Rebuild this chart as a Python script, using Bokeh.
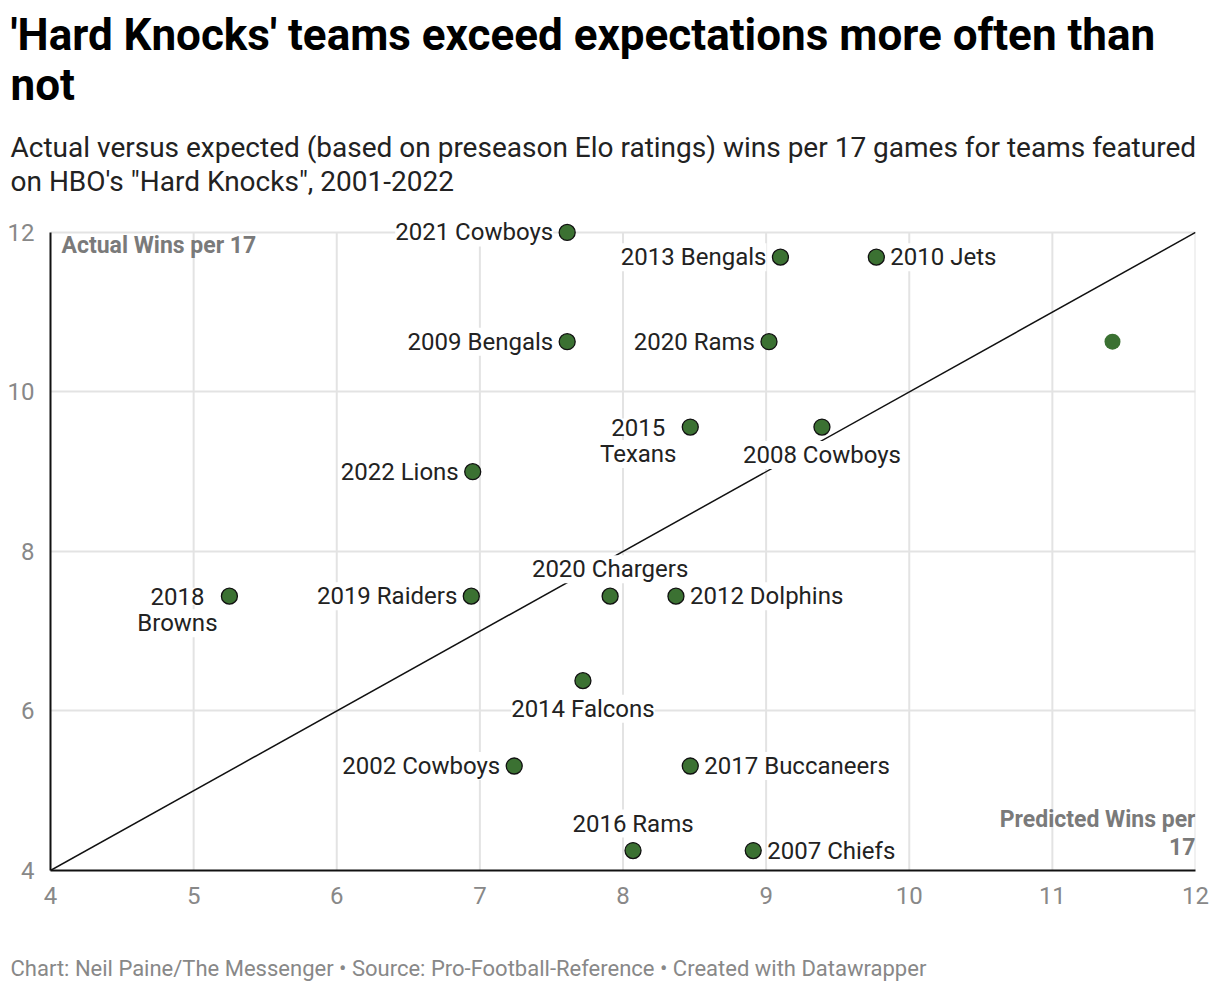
from bokeh.plotting import figure
from bokeh.models import ColumnDataSource, LabelSet, Label, Title, FixedTicker, Range1d
from bokeh.core.properties import value
from bokeh.embed import file_html
from bokeh.resources import INLINE

# ---- data ----
teams = ["2021 Cowboys", "2013 Bengals", "2010 Jets", "", "2009 Bengals", "2020 Rams",
         "2015 Texans", "2008 Cowboys", "2022 Lions", "2018 Browns", "2019 Raiders",
         "2020 Chargers", "2012 Dolphins", "2014 Falcons", "2002 Cowboys",
         "2017 Buccaneers", "2016 Rams", "2007 Chiefs"]
predicted = [7.61, 9.10, 9.77, 11.42, 7.61, 9.02, 8.47, 9.39, 6.95, 5.25, 6.94,
             7.91, 8.37, 7.72, 7.24, 8.47, 8.07, 8.91]
actual = [12.0, 11.69, 11.69, 10.63, 10.63, 10.63, 9.56, 9.56, 9.0, 7.44, 7.44,
          7.44, 7.44, 6.38, 5.31, 5.31, 4.25, 4.25]
x_ticks = [4, 5, 6, 7, 8, 9, 10, 11, 12]
y_ticks = [4, 6, 8, 10, 12]
diag_x = [4, 12]
diag_y = [4, 12]

title_lines = ["'Hard Knocks' teams exceed expectations more often than", "not"]
subtitle_lines = ["Actual versus expected (based on preseason Elo ratings) wins per 17 games for teams featured",
                  'on HBO\'s "Hard Knocks", 2001-2022']
footer = "Chart: Neil Paine/The Messenger \u2022 Source: Pro-Football-Reference \u2022 Created with Datawrapper"

# label placement (style)
label_side = {
    "2021 Cowboys": "left", "2013 Bengals": "left", "2010 Jets": "right",
    "2009 Bengals": "left", "2020 Rams": "left", "2015 Texans": "left2",
    "2008 Cowboys": "below", "2022 Lions": "left", "2018 Browns": "left2",
    "2019 Raiders": "left", "2020 Chargers": "above", "2012 Dolphins": "right",
    "2014 Falcons": "below", "2002 Cowboys": "left", "2017 Buccaneers": "right",
    "2016 Rams": "above", "2007 Chiefs": "right",
}

FONT = "Roboto"
GREEN = "#3b7132"

p = figure(width=1212, height=1000, x_range=Range1d(4, 12), y_range=Range1d(4, 12.25),
           output_backend="svg", toolbar_location=None, title=None,
           min_border_left=50, min_border_right=17, min_border_top=212, min_border_bottom=130)
p.outline_line_color = None
p.background_fill_color = "white"
p.border_fill_color = "white"

# axes
for ax in (p.xaxis[0], p.yaxis[0]):
    ax.axis_line_color = "#111111"
    ax.axis_line_width = 2
    ax.major_tick_line_color = None
    ax.minor_tick_line_color = None
    ax.major_label_text_font = FONT
    ax.major_label_text_font_size = "24px"
    ax.major_label_text_color = "#888888"
p.xaxis.ticker = FixedTicker(ticks=x_ticks)
p.yaxis.ticker = FixedTicker(ticks=y_ticks)
p.yaxis.bounds = (4, 12)
p.xaxis.major_label_standoff = 10
p.yaxis.major_label_standoff = 10
# blank spacer label to push the footer down
p.xaxis.axis_label = " "
p.xaxis.axis_label_text_font_size = "10px"
p.xaxis.axis_label_text_color = "white"
p.xaxis.axis_label_standoff = 31

# grids
p.xgrid.visible = False
p.ygrid.ticker = FixedTicker(ticks=y_ticks)
p.ygrid.grid_line_color = "#e3e3e3"
p.ygrid.grid_line_width = 2
gx = x_ticks[1:]
p.segment(x0=gx, x1=gx, y0=[y_ticks[0]] * len(gx), y1=[y_ticks[-1]] * len(gx),
          line_color="#e3e3e3", line_width=2, level="underlay")

# diagonal
p.line(diag_x, diag_y, line_color="#111111", line_width=1.5)

# points
outlined = [t != "" for t in teams]
src_o = ColumnDataSource(dict(x=[x for x, o in zip(predicted, outlined) if o],
                              y=[y for y, o in zip(actual, outlined) if o]))
src_n = ColumnDataSource(dict(x=[x for x, o in zip(predicted, outlined) if not o],
                              y=[y for y, o in zip(actual, outlined) if not o]))
p.scatter("x", "y", source=src_o, size=16, fill_color=GREEN, line_color="#111111", line_width=1.3)
p.scatter("x", "y", source=src_n, size=16, fill_color=GREEN, line_color=None)

# labels
side_cfg = {
    "left": dict(text_align="right", x_offset=-14, y_offset=0),
    "right": dict(text_align="left", x_offset=14, y_offset=0),
    "below": dict(text_align="center", x_offset=0, y_offset=-28),
    "above": dict(text_align="center", x_offset=0, y_offset=27),
}
for side, cfg in side_cfg.items():
    idx = [i for i, t in enumerate(teams) if label_side.get(t) == side]
    src = ColumnDataSource(dict(x=[predicted[i] for i in idx], y=[actual[i] for i in idx],
                                t=[teams[i] for i in idx]))
    p.add_layout(LabelSet(x="x", y="y", text="t", source=src, text_baseline="middle",
                          text_font=value(FONT), text_font_size="24px", text_color="#222222",
                          background_fill_color="white", **cfg))

# two-line labels: first word on line one, rest on line two, centred block left of point
idx2 = [i for i, t in enumerate(teams) if label_side.get(t) == "left2"]
for part, yoff in ((0, 0), (1, -27)):
    src = ColumnDataSource(dict(x=[predicted[i] for i in idx2], y=[actual[i] for i in idx2],
                                t=[teams[i].split(" ", 1)[part] for i in idx2]))
    p.add_layout(LabelSet(x="x", y="y", text="t", source=src, text_baseline="middle",
                          text_align="center", x_offset=-52, y_offset=yoff,
                          text_font=value(FONT), text_font_size="24px", text_color="#222222",
                          background_fill_color="white"))

# axis titles inside plot
p.add_layout(Label(x=4, y=12, x_offset=11, y_offset=0, text="Actual Wins per 17",
                   text_font=FONT, text_font_size="23px", text_font_style="bold",
                   text_color="#7a7a7a", text_align="left", text_baseline="top"))
p.add_layout(Label(x=12, y=4, x_offset=0, y_offset=9, text="Predicted Wins per\n17",
                   text_font=FONT, text_font_size="23px", text_font_style="bold",
                   text_color="#7a7a7a", text_align="right", text_baseline="bottom",
                   text_line_height=1.05))

# titles (last added is farthest from the plot)
def add_title(text, size, style, color, standoff, lh, loc="above"):
    p.add_layout(Title(text=text, align="left", offset=-40, text_font=FONT,
                       text_font_size=size, text_font_style=style, text_color=color,
                       standoff=standoff, text_line_height=lh), loc)

add_title("\n".join(subtitle_lines), "28px", "normal", "#222222", 28, 1.036)
add_title("\n".join(title_lines), "44px", "bold", "#000000", 8, 0.97)
add_title(footer, "22px", "normal", "#888888", 4, 1.0, loc="below")

open("out.html", "w").write(file_html(p, INLINE))
